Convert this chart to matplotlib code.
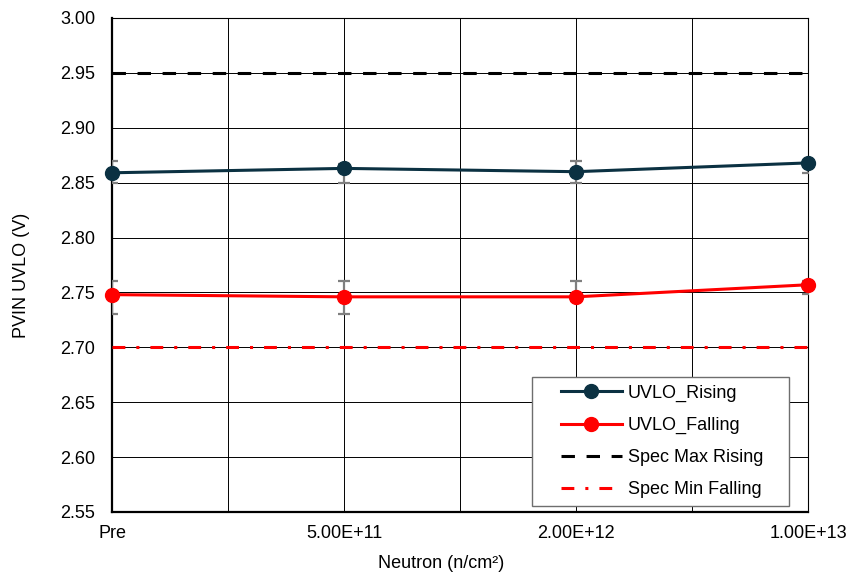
import matplotlib.pyplot as plt
from matplotlib.legend_handler import HandlerLine2D
from matplotlib.lines import Line2D

plt.rcParams["font.family"] = ["Liberation Sans", "DejaVu Sans"]

# облучение нейтронами
doses = ["Pre", "5.00E+11", "2.00E+12", "1.00E+13"]

# порог UVLO по нарастанию / спаду, В
uvlo_rising = [2.859, 2.863, 2.860, 2.868]
uvlo_falling = [2.748, 2.746, 2.746, 2.757]

# разброс (вниз, вверх)
rising_err_low = [0.009, 0.013, 0.010, 0.009]
rising_err_high = [0.011, 0.004, 0.010, 0.002]
falling_err_low = [0.018, 0.016, 0.004, 0.008]
falling_err_high = [0.012, 0.014, 0.014, 0.003]

# пределы по спецификации
spec_max_rising = 2.95
spec_min_falling = 2.70

y_ticks = [2.55, 2.60, 2.65, 2.70, 2.75, 2.80, 2.85, 2.90, 2.95, 3.00]

RISING_COLOR = "#0b3142"
FALLING_COLOR = "#ff0000"
ERR_COLOR = "#7f7f7f"
FS = 13


def main() -> None:
    x = list(range(len(doses)))

    fig = plt.figure(figsize=(8.52, 5.79), dpi=100)
    ax = fig.add_axes([112 / 852, 1 - 512 / 579, 696 / 852, 494 / 579])

    # разброс рисуем под линиями
    ax.errorbar(x, uvlo_rising, yerr=[rising_err_low, rising_err_high],
                fmt="none", ecolor=ERR_COLOR, elinewidth=1.6, capsize=4,
                capthick=1.6, zorder=3)
    ax.errorbar(x, uvlo_falling, yerr=[falling_err_low, falling_err_high],
                fmt="none", ecolor=ERR_COLOR, elinewidth=1.6, capsize=4,
                capthick=1.6, zorder=3)

    ax.plot(x, uvlo_rising, color=RISING_COLOR, lw=2.2, marker="o",
            markersize=10, label="UVLO_Rising", zorder=5, clip_on=False)
    ax.plot(x, uvlo_falling, color=FALLING_COLOR, lw=2.2, marker="o",
            markersize=10, label="UVLO_Falling", zorder=5, clip_on=False)

    ax.axhline(spec_max_rising, color="black", lw=2.2,
               linestyle=(0, (4.4, 3.8)), label="Spec Max Rising", zorder=4)
    ax.axhline(spec_min_falling, color=FALLING_COLOR, lw=2.2,
               linestyle=(0, (4.2, 3.6, 1.0, 3.6)), label="Spec Min Falling",
               zorder=4)

    ax.set_xlim(0, len(doses) - 1)
    ax.set_ylim(y_ticks[0], y_ticks[-1])
    ax.set_yticks(y_ticks)
    ax.set_yticklabels([f"{v:.2f}" for v in y_ticks], fontsize=FS)
    ax.set_xticks(x)
    ax.set_xticklabels(doses, fontsize=FS)
    ax.set_xticks([i + 0.5 for i in x[:-1]], minor=True)
    ax.tick_params(axis="both", which="both", length=0)
    ax.tick_params(axis="y", pad=12)
    ax.tick_params(axis="x", pad=9)

    ax.grid(axis="y", color="black", lw=0.7, zorder=1)
    ax.grid(axis="x", which="both", color="black", lw=0.7, zorder=1)
    ax.set_axisbelow(True)

    for side in ("left", "bottom"):
        ax.spines[side].set_linewidth(1.6)
    for side in ("top", "right"):
        ax.spines[side].set_linewidth(0.8)

    ax.set_xlabel("Neutron (n/cm²)", fontsize=FS)
    ax.xaxis.set_label_coords(0.473, -0.088)
    ax.set_ylabel("PVIN UVLO (V)", fontsize=FS)
    ax.yaxis.set_label_coords(-0.118, 0.48)

    # легенда в правом нижнем углу, маркеры с отступом слева
    leg = ax.legend(
        loc="upper left",
        bbox_to_anchor=(532 / 852, 1 - 377 / 579, 257 / 852, 0.0),
        bbox_transform=fig.transFigure,
        mode="expand",
        borderaxespad=0,
        fontsize=FS,
        handlelength=4.57,
        handletextpad=0.33,
        labelspacing=0.84,
        borderpad=0.42,
        fancybox=False,
        framealpha=1,
        edgecolor="#6e6e6e",
        handler_map={Line2D: HandlerLine2D(xpad=1.18)},
    )
    leg.get_frame().set_linewidth(1.0)
    leg.set_zorder(10)

    fig.savefig("out.png", dpi=100)
    plt.close(fig)


if __name__ == "__main__":
    main()
